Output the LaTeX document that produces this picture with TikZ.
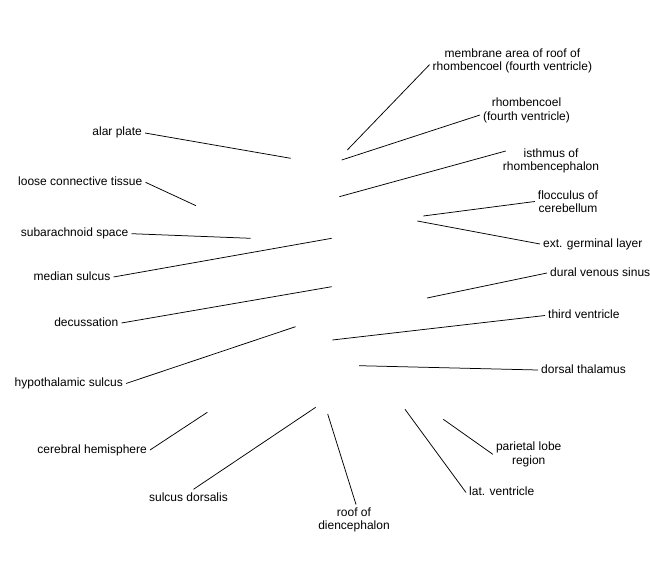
\documentclass[tikz,border=0pt]{standalone}
\usepackage{fontspec}
\setmainfont{Liberation Sans}
\usepackage{tikz}

\begin{document}
\begin{tikzpicture}[
            x=1pt, y=-1pt,
            every node/.style={font=\fontsize{12}{13.5}\selectfont, inner sep=3pt}, % all labels
            lbl/.style={text height=8.5pt, text depth=2.5pt}, % one-line label
            lbltwo/.style={align=center}, % two-line label
            lead/.style={line width=0.75pt} % leader line
            ]
        \useasboundingbox (0,0) rectangle (650,580);

        % Points in the section
        \coordinate (alar-pt) at (290.7,158.3);
        \coordinate (loose-pt) at (196,205.7);
        \coordinate (subarach-pt) at (250.7,238.3);
        \coordinate (median-pt) at (331.7,238.3);
        \coordinate (decuss-pt) at (331.7,286.7);
        \coordinate (hypo-pt) at (295.5,326.7);
        \coordinate (cereb-pt) at (207.3,412.3);
        \coordinate (sulcus-pt) at (315.7,407.3);
        \coordinate (roof-pt) at (327.7,414);
        \coordinate (membr-pt) at (347.3,150);
        \coordinate (rhomb-pt) at (341.7,160);
        \coordinate (isth-pt) at (339.3,196.7);
        \coordinate (flocc-pt) at (423.3,216);
        \coordinate (germ-pt) at (417.3,221);
        \coordinate (dural-pt) at (427,298);
        \coordinate (third-pt) at (332.3,340);
        \coordinate (thal-pt) at (359,365.7);
        \coordinate (pariet-pt) at (443.3,419.3);
        \coordinate (latv-pt) at (405,409.3);

        % Labels on the left
        \node[lbl, anchor=east] (alar) at (145,133) {alar plate};
        \node[lbl, anchor=east] (loose) at (145.5,182.3) {loose connective tissue};
        \node[lbl, anchor=east] (subarach) at (131.5,233.7) {subarachnoid space};
        \node[lbl, anchor=east] (median) at (113.5,277) {median sulcus};
        \node[lbl, anchor=east] (decuss) at (121.5,323) {decussation};
        \node[lbl, anchor=east] (hypo) at (126,383.5) {hypothalamic sulcus};
        \node[lbl, anchor=east] (cereb) at (150,450) {cerebral hemisphere};
        \node[lbl] (sulcus) at (188.5,498) {sulcus dorsalis};
        \node[lbltwo] (roof) at (354,520) {roof of\\diencephalon};

        % Labels on the right
        \node[lbltwo] (membr) at (512.4,60.7) {membrane area of roof of\\rhombencoel (fourth ventricle)};
        \node[lbltwo] (rhomb) at (526.5,110.5) {rhombencoel\\(fourth ventricle)};
        \node[lbltwo] (isth) at (551,160.7) {isthmus of\\rhombencephalon};
        \node[lbltwo] (flocc) at (568,201.5) {flocculus of\\cerebellum};
        \node[lbl, anchor=west] (germ) at (540,244) {ext. germinal layer};
        \node[lbl, anchor=west] (dural) at (547,273) {dural venous sinus};
        \node[lbl, anchor=west] (third) at (545,315.5) {third ventricle};
        \node[lbl, anchor=west] (thal) at (538,370) {dorsal thalamus};
        \node[lbltwo] (pariet) at (528.7,454.3) {parietal lobe\\region};
        \node[lbl, anchor=west] (latv) at (466,492.5) {lat. ventricle};

        % Leader lines
        \draw[lead] (alar.east) -- (alar-pt);
        \draw[lead] (loose.east) -- (loose-pt);
        \draw[lead] (subarach.east) -- (subarach-pt);
        \draw[lead] (median.east) -- (median-pt);
        \draw[lead] (decuss.east) -- (decuss-pt);
        \draw[lead] (hypo.east) -- (hypo-pt);
        \draw[lead] (cereb.east) -- (cereb-pt);
        \draw[lead] ([xshift=5pt]sulcus.north) -- (sulcus-pt);
        \draw[lead] ([xshift=2pt]roof.north) -- (roof-pt);
        \draw[lead] ([yshift=-4pt]membr.west) -- (membr-pt);
        \draw[lead] ([yshift=-4.5pt]rhomb.west) -- (rhomb-pt);
        \draw[lead] ([shift={(6pt,9.7pt)}]isth.west) -- (isth-pt);
        \draw[lead] (flocc.west) -- (flocc-pt);
        \draw[lead] (germ.west) -- (germ-pt);
        \draw[lead] (dural.west) -- (dural-pt);
        \draw[lead] (third.west) -- (third-pt);
        \draw[lead] (thal.west) -- (thal-pt);
        \draw[lead] (pariet.west) -- (pariet-pt);
        \draw[lead] (latv.west) -- (latv-pt);

    \end{tikzpicture}
\end{document}
